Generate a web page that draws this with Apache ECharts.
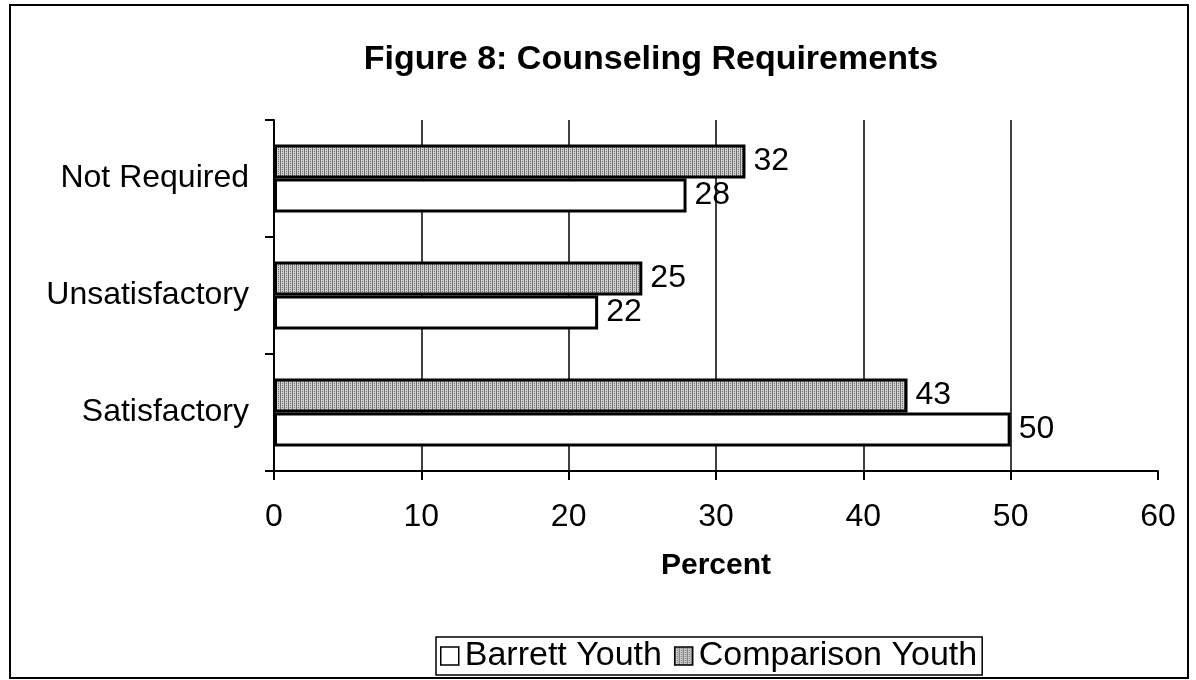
<!DOCTYPE html>
<html><head><meta charset="utf-8">
<script src="https://cdn.jsdelivr.net/npm/echarts@6/dist/echarts.min.js"></script>
<style>html,body{margin:0;padding:0;background:#fff}#c{width:1196px;height:680px}</style>
</head><body><div id="c"></div>
<script>
const categories = ['Satisfactory', 'Unsatisfactory', 'Not Required'];
const barrettYouth = [50, 22, 28];
const comparisonYouth = [43, 25, 32];
const xTicks = [0, 10, 20, 30, 40, 50, 60];

function makePattern() {
  const c = document.createElement('canvas');
  c.width = 4; c.height = 4;
  const g = c.getContext('2d');
  g.fillStyle = '#cfcfcf'; g.fillRect(0, 0, 4, 4);
  g.fillStyle = '#6e6e6e';
  g.fillRect(0, 0, 1, 4);
  g.fillRect(2, 1, 1, 1);
  g.fillRect(2, 3, 1, 1);
  return c;
}
const grayFill = { image: makePattern(), repeat: 'repeat' };
const font = 'Liberation Sans, Arial, sans-serif';

const chart = echarts.init(document.getElementById('c'), null, { renderer: 'canvas' });
chart.setOption({
  animation: false,
  backgroundColor: '#fff',
  title: {
    text: 'Figure 8: Counseling Requirements',
    left: 646, top: 38, textAlign: 'center',
    textStyle: { fontFamily: font, fontSize: 34, fontWeight: 'bold', color: '#000' }
  },
  graphic: [{
    type: 'rect', shape: { x: 10, y: 5, width: 1178, height: 673 },
    style: { fill: 'none', stroke: '#000', lineWidth: 2 }, silent: true
  }],
  legend: {
    bottom: 5, left: 436, itemGap: 12, itemWidth: 18, itemHeight: 18, icon: 'rect',
    borderColor: '#000', borderWidth: 1.5, padding: [2, 5, 2, 4],
    itemStyle: { borderWidth: 1.5, borderColor: '#000' },
    textStyle: { fontFamily: font, fontSize: 34, color: '#000', padding: [0, 0, 0, 1] },
    data: ['Barrett Youth', 'Comparison Youth']
  },
  grid: { left: 274, right: 38, top: 120, height: 351, containLabel: false },
  xAxis: {
    type: 'value', min: xTicks[0], max: xTicks[xTicks.length - 1], interval: 10,
    name: 'Percent', nameLocation: 'middle', nameGap: 80,
    nameTextStyle: { fontFamily: font, fontSize: 30, fontWeight: 'bold', color: '#000' },
    axisLine: { show: true, lineStyle: { color: '#000', width: 2 } },
    axisTick: { show: true, length: 9, lineStyle: { color: '#000', width: 2 } },
    axisLabel: { fontFamily: font, fontSize: 32, color: '#000', margin: 30 },
    splitLine: { show: true, lineStyle: { color: ['#000', '#000', '#000', '#000', '#000', '#000', 'rgba(0,0,0,0)'], width: 1.5 } }
  },
  yAxis: {
    type: 'category', data: categories,
    axisLine: { show: true, lineStyle: { color: '#000', width: 2 } },
    axisTick: { show: true, length: 9, lineStyle: { color: '#000', width: 2 } },
    axisLabel: { fontFamily: font, fontSize: 32, color: '#000', margin: 25 }
  },
  series: [
    {
      name: 'Comparison Youth', type: 'bar', data: comparisonYouth,
      barGap: '0%', barCategoryGap: '42%',
      itemStyle: { color: grayFill, borderColor: '#000', borderWidth: 3 },
      label: { show: true, position: 'right', distance: 8, fontFamily: font, fontSize: 32, color: '#000' }
    },
    {
      name: 'Barrett Youth', type: 'bar', data: barrettYouth,
      barGap: '0%', barCategoryGap: '42%',
      itemStyle: { color: '#fff', borderColor: '#000', borderWidth: 3 },
      label: { show: true, position: 'right', distance: 8, fontFamily: font, fontSize: 32, color: '#000' }
    }
  ]
});
</script></body></html>
